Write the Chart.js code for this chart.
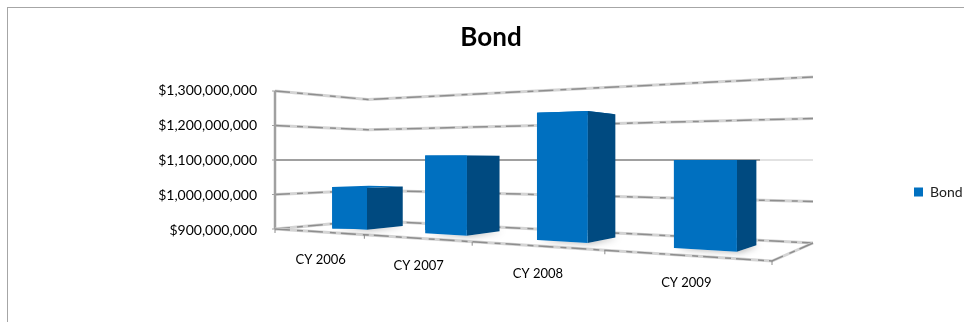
<!DOCTYPE html>
<html>
<head>
<meta charset="utf-8">
<title>Bond</title>
<style>
  html, body { margin: 0; padding: 0; background: #fff; overflow: hidden; }
  #frame { position: absolute; left: 7px; top: 7px; right: 0; bottom: 0; border-top: 1px solid #a6a6a6; border-left: 1px solid #a6a6a6; }
  canvas { position: absolute; left: 0; top: 0; }
</style>
<script src="https://cdn.jsdelivr.net/npm/chart.js@4"></script>
</head>
<body>
<div id="frame"></div>
<canvas id="bondChart" width="964" height="322"></canvas>
<script>
// ── Data ──
const categories = ['CY 2006', 'CY 2007', 'CY 2008', 'CY 2009'];
const bondValues = [1020000000, 1112000000, 1218000000, 1100000000];
const seriesName = 'Bond';

// ── Look of the 3D box ──
const FONT = 'Lato';
const FRONT_COLOR = '#0070C0';
const SIDE_COLOR = '#004A80';
const EYE_VALUE = 1100000000;           // value that sits at eye level, its gridline is flat
const FLOOR = { a: [275, 229], b: [772, 261], c: [813, 243], d: [368, 220.5] };
const BAR_U = [0.32, 0.715];            // footprint inside a category
const BAR_W = [0.3, 0.7];

// Unit square to floor quad
function floorMap(q) {
  const dx1 = q.b[0] - q.c[0], dx2 = q.d[0] - q.c[0], sx = q.a[0] - q.b[0] + q.c[0] - q.d[0];
  const dy1 = q.b[1] - q.c[1], dy2 = q.d[1] - q.c[1], sy = q.a[1] - q.b[1] + q.c[1] - q.d[1];
  const den = dx1 * dy2 - dx2 * dy1;
  const g = (sx * dy2 - dx2 * sy) / den;
  const h = (dx1 * sy - sx * dy1) / den;
  const a = q.b[0] - q.a[0] + g * q.b[0], b = q.d[0] - q.a[0] + h * q.d[0];
  const d = q.b[1] - q.a[1] + g * q.b[1], e = q.d[1] - q.a[1] + h * q.d[1];
  return (u, w) => {
    const k = g * u + h * w + 1;
    return [(a * u + b * w + q.a[0]) / k, (d * u + e * w + q.a[1]) / k];
  };
}
const onFloor = floorMap(FLOOR);

// A floor point lifted up to a value on the y scale
function lift(scale, pt, value) {
  const eye = scale.getPixelForValue(EYE_VALUE);
  const k = (pt[1] - eye) / (scale.getPixelForValue(scale.min) - eye);
  return [pt[0], eye + (scale.getPixelForValue(value) - eye) * k];
}

function poly(ctx, pts, color) {
  ctx.beginPath();
  pts.forEach((p, i) => i ? ctx.lineTo(p[0], p[1]) : ctx.moveTo(p[0], p[1]));
  ctx.closePath();
  ctx.fillStyle = color;
  ctx.fill();
}

function strokeLine(ctx, pts, color, width, dash) {
  ctx.beginPath();
  pts.forEach((p, i) => i ? ctx.lineTo(p[0], p[1]) : ctx.moveTo(p[0], p[1]));
  ctx.strokeStyle = color;
  ctx.lineWidth = width;
  ctx.setLineDash(dash || []);
  ctx.stroke();
  ctx.setLineDash([]);
}

// The slanted lines are smudgy in the original: pale base, broken darker core
function smudgeLine(ctx, pts) {
  strokeLine(ctx, pts, '#d4d4d4', 3);
  strokeLine(ctx, pts, '#8e8e8e', 1.5, [15, 7, 6, 5]);
}

function barCorners(i) {
  const n = categories.length;
  const u0 = (i + BAR_U[0]) / n, u1 = (i + BAR_U[1]) / n;
  return {
    fl: onFloor(u0, BAR_W[0]), fr: onFloor(u1, BAR_W[0]),
    br: onFloor(u1, BAR_W[1]), bl: onFloor(u0, BAR_W[1])
  };
}

const perspective = {
  id: 'perspective',
  // Legend sits lower than the middle of the plot
  afterLayout(chart) {
    const legend = chart.legend;
    const dx = 914 - legend.options.labels.padding - legend.left;
    legend.left += dx; legend.right += dx;
    legend.top += 77; legend.bottom += 77;
  },
  // Move the library's bars onto the floor
  afterDatasetsUpdate(chart) {
    const y = chart.scales.y;
    chart.getDatasetMeta(0).data.forEach((bar, i) => {
      const c = barCorners(i);
      const top = lift(y, c.fl, bondValues[i]);
      bar.x = (c.fl[0] + c.fr[0]) / 2;
      bar.width = c.fr[0] - c.fl[0];
      bar.y = top[1];
      bar.base = (c.fl[1] + c.fr[1]) / 2;
    });
  },
  // Walls, floor, ticks and category labels
  beforeDatasetsDraw(chart) {
    const { ctx, scales: { y } } = chart;
    const { a, b, c, d } = FLOOR;
    ctx.save();
    y.ticks.forEach(t => {
      const pts = [a, d, c].map(p => lift(y, p, t.value));
      if (t.value === EYE_VALUE) {
        strokeLine(ctx, pts, '#e2e2e2', 2);
        strokeLine(ctx, [pts[0], [760, pts[2][1]]], '#a0a0a0', 2);
      } else {
        smudgeLine(ctx, pts);
      }
      strokeLine(ctx, [[pts[0][0] - 3, pts[0][1]], pts[0]], '#a3a3a3', 1);
    });
    strokeLine(ctx, [lift(y, a, y.max), lift(y, a, y.min)], '#a0a0a0', 2.5);
    smudgeLine(ctx, [a, b, c]);
    categories.forEach((label, i) => {
      const n = categories.length;
      const p = onFloor(i / n, 0);
      strokeLine(ctx, [p, [p[0], p[1] + 4]], '#8c8c8c', 1);
      const m = onFloor((i + 0.5) / n, 0);
      ctx.fillStyle = '#000';
      ctx.font = '13px ' + FONT;
      ctx.textAlign = 'center';
      ctx.textBaseline = 'middle';
      ctx.fillText(label, m[0] + 3, m[1] + 28);
    });
    const last = onFloor(1, 0);
    strokeLine(ctx, [last, [last[0], last[1] + 4]], '#8c8c8c', 1);
    // Soft shadow of each bar on the floor
    bondValues.forEach((v, i) => {
      const q = barCorners(i);
      ctx.save();
      ctx.shadowColor = 'rgba(0,0,0,0.35)';
      ctx.shadowBlur = 7;
      ctx.shadowOffsetX = 3;
      poly(ctx, [q.fl, q.fr, q.br, q.bl], '#fff');
      ctx.restore();
    });
    ctx.restore();
  },
  // Top and side faces, plus the slant of the front face
  afterDatasetsDraw(chart) {
    const { ctx, scales: { y } } = chart;
    ctx.save();
    bondValues.forEach((v, i) => {
      const q = barCorners(i);
      const up = p => lift(y, p, v);
      poly(ctx, [up(q.fl), up(q.fr), up(q.br), up(q.bl)], FRONT_COLOR);
      poly(ctx, [q.fr, q.br, up(q.br), up(q.fr)], SIDE_COLOR);
      poly(ctx, [q.fl, q.fr, up(q.fr), up(q.fl)], FRONT_COLOR);
    });
    ctx.restore();
  }
};

new Chart(document.getElementById('bondChart'), {
  type: 'bar',
  data: {
    labels: categories,
    datasets: [{
      label: seriesName,
      data: bondValues,
      backgroundColor: FRONT_COLOR,
      borderWidth: 0
    }]
  },
  options: {
    responsive: false,
    animation: false,
    layout: { padding: { left: 18, right: 0, top: 0, bottom: 92 } },
    plugins: {
      title: {
        display: true,
        text: 'Bond',
        color: '#000',
        font: { family: FONT, size: 26, weight: 'bold', lineHeight: 1.2 },
        padding: { top: 22, bottom: 36.8 }
      },
      legend: {
        display: true,
        position: 'right',
        labels: {
          color: '#222',
          font: { family: FONT, size: 14 },
          boxWidth: 9,
          boxHeight: 9,
          padding: 8
        }
      },
      tooltip: { enabled: false }
    },
    scales: {
      x: { display: false },
      y: {
        min: 900000000,
        max: 1300000000,
        afterFit(scale) { scale.width = 257; },
        grid: { display: false, drawTicks: false },
        border: { display: false },
        ticks: {
          stepSize: 100000000,
          color: '#000',
          padding: 18,
          font: { family: FONT, size: 14 },
          callback: v => '$' + Number(v).toLocaleString('en-US')
        }
      }
    }
  },
  plugins: [perspective]
});
</script>
</body>
</html>
